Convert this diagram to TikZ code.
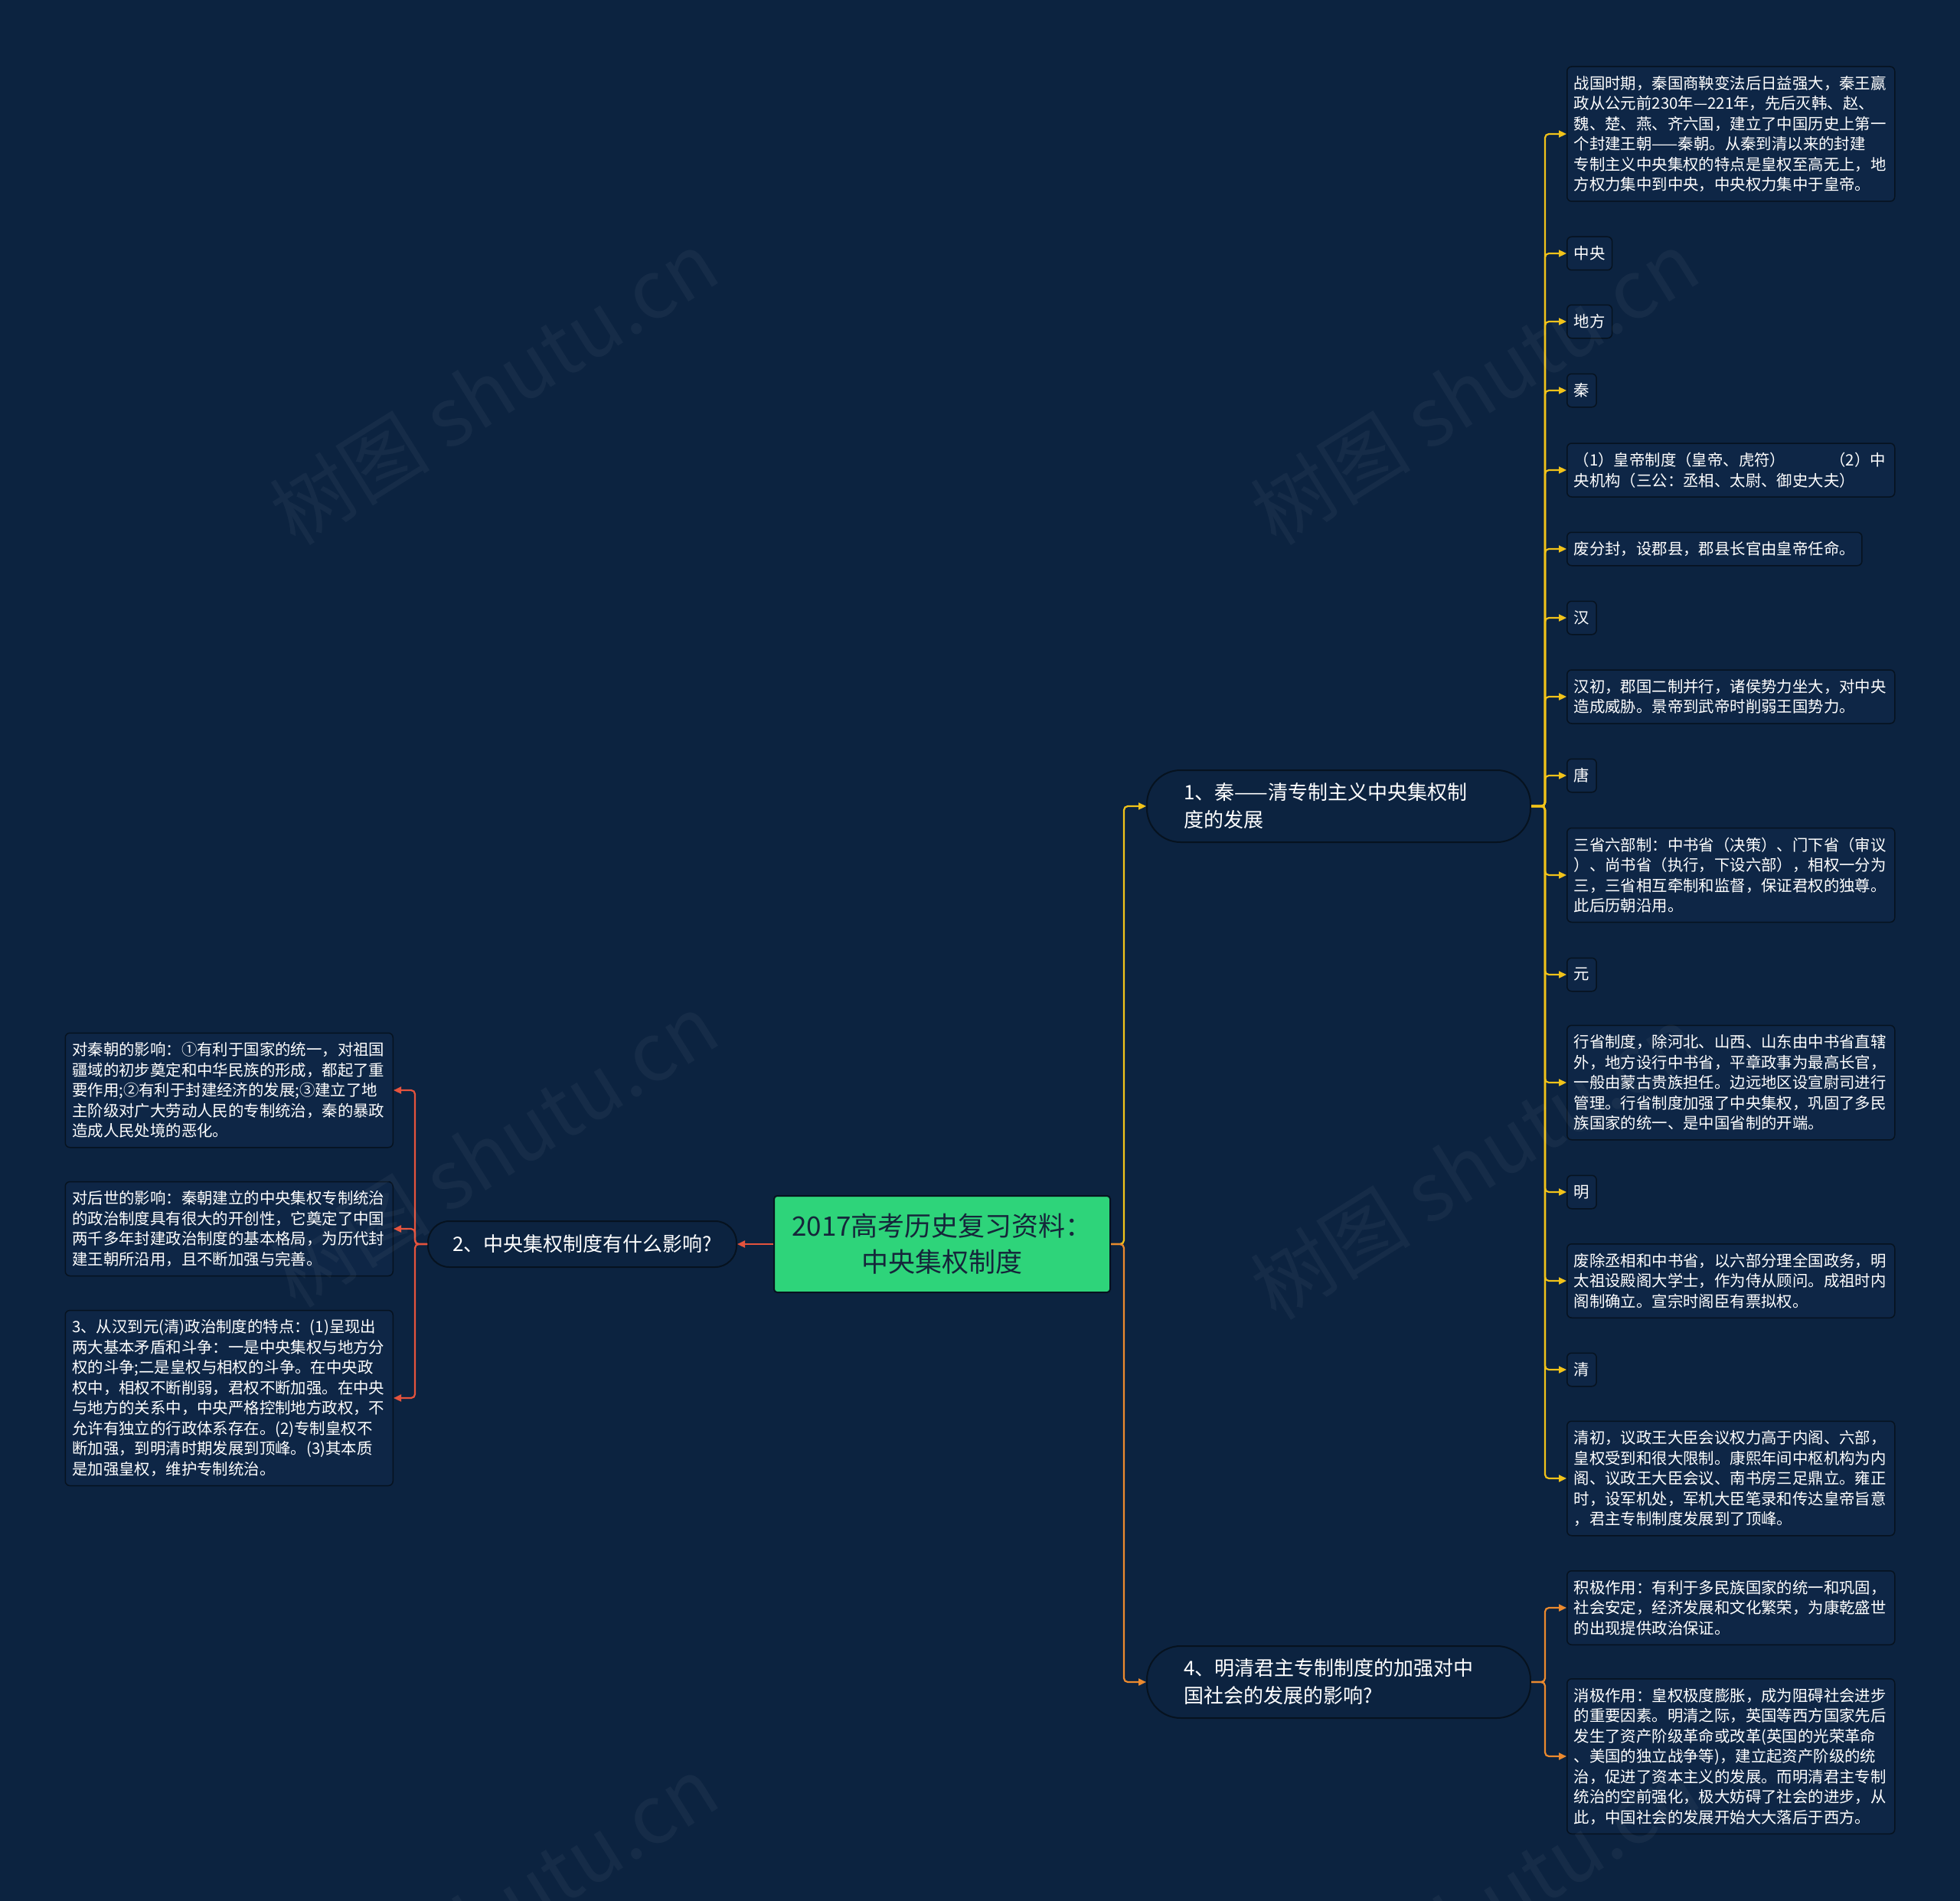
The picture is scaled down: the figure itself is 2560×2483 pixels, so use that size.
\documentclass[tikz,border=0pt]{standalone}
\usepackage{fontspec}
\newfontfamily\cjk{Noto Sans CJK SC}
\usetikzlibrary{arrows.meta}
\definecolor{bg}{HTML}{0C2340}
\definecolor{boxfill}{HTML}{0E2646}
\definecolor{boxline}{HTML}{06121F}
\definecolor{cyel}{HTML}{F2C31A}
\definecolor{corg}{HTML}{EC8A2E}
\definecolor{cred}{HTML}{E5533D}
\definecolor{rootg}{HTML}{2ED47A}
\definecolor{roottxt}{HTML}{15263A}
\begin{document}
\begin{tikzpicture}[x=1pt,y=-1pt,
  leaf/.style={draw=boxline, line width=1.5pt, fill=boxfill, rounded corners=6pt,
    inner xsep=9pt, inner ysep=0pt, text=white,
    font=\cjk\fontsize{20.4pt}{26.5pt}\selectfont, align=left,
    minimum height=#1*26.5pt+17pt},
  leaf/.default=1,
  wide/.style={text width=410pt},
  branch/.style={draw=boxline, line width=2pt, fill=bg, text=white,
    font=\cjk\fontsize{26pt}{36pt}\selectfont, align=left},
  conn/.style={line width=2.2pt, rounded corners=5pt, -{Triangle[length=10pt,width=9pt]}},
  yl/.style={conn, draw=cyel, -{Triangle[length=10pt,width=9pt,fill=cyel]}},
  ol/.style={conn, draw=corg, -{Triangle[length=10pt,width=9pt,fill=corg]}},
  rl/.style={conn, draw=cred, -{Triangle[length=10pt,width=9pt,fill=cred]}},
  wmark/.style={rotate=32, text=white, opacity=0.045, font=\cjk\fontsize{105pt}{105pt}\selectfont}
]
\fill[bg] (0,0) rectangle (2560,2483);
\useasboundingbox (0,0) rectangle (2560,2483);

% root
\node[draw=boxline, line width=2pt, fill=rootg, rounded corners=4pt, text=roottxt,
  minimum width=439pt, minimum height=126pt, align=center,
  font=\cjk\fontsize{35pt}{47pt}\selectfont] (root) at (1230.5,1625)
  {2017高考历史复习资料：\\中央集权制度};

% branches
\node[branch, rounded corners=44pt, text width=405pt, inner xsep=48pt, minimum height=94pt, anchor=west] (b1) at (1497,1053)
  {1、秦——清专制主义中央集权制\\度的发展};
\node[branch, rounded corners=44pt, text width=405pt, inner xsep=48pt, minimum height=94pt, anchor=west] (b4) at (1497,2197)
  {4、明清君主专制制度的加强对中\\国社会的发展的影响?};
\node[branch, rounded corners=28pt, inner xsep=31pt, minimum height=60pt, minimum width=403pt, anchor=east] (b2) at (963,1625)
  {2、中央集权制度有什么影响?};

% right leaves of branch 1
\node[leaf=6, wide, anchor=west] (r1) at (2046,175)
  {战国时期，秦国商鞅变法后日益强大，秦王嬴\\政从公元前230年—221年，先后灭韩、赵、\\魏、楚、燕、齐六国，建立了中国历史上第一\\个封建王朝——秦朝。从秦到清以来的封建\\专制主义中央集权的特点是皇权至高无上，地\\方权力集中到中央，中央权力集中于皇帝。};
\node[leaf, anchor=west] (r2) at (2046,331) {中央};
\node[leaf, anchor=west] (r3) at (2046,420) {地方};
\node[leaf, anchor=west] (r4) at (2046,510) {秦};
\node[leaf=2, wide, anchor=west] (r5) at (2046,614)
  {（1）皇帝制度（皇帝、虎符）\hspace*{58pt}（2）中\\央机构（三公：丞相、太尉、御史大夫）};
\node[leaf, anchor=west] (r6) at (2046,717) {废分封，设郡县，郡县长官由皇帝任命。};
\node[leaf, anchor=west] (r7) at (2046,807) {汉};
\node[leaf=2, wide, anchor=west] (r8) at (2046,910)
  {汉初，郡国二制并行，诸侯势力坐大，对中央\\造成威胁。景帝到武帝时削弱王国势力。};
\node[leaf, anchor=west] (r9) at (2046,1013) {唐};
\node[leaf=4, wide, anchor=west] (r10) at (2046,1143)
  {三省六部制：中书省（决策）、门下省（审议\\）、尚书省（执行，下设六部），相权一分为\\三，三省相互牵制和监督，保证君权的独尊。\\此后历朝沿用。};
\node[leaf, anchor=west] (r11) at (2046,1273) {元};
\node[leaf=5, wide, anchor=west] (r12) at (2046,1414)
  {行省制度，除河北、山西、山东由中书省直辖\\外，地方设行中书省，平章政事为最高长官，\\一般由蒙古贵族担任。边远地区设宣尉司进行\\管理。行省制度加强了中央集权，巩固了多民\\族国家的统一、是中国省制的开端。};
\node[leaf, anchor=west] (r13) at (2046,1557) {明};
\node[leaf=3, wide, anchor=west] (r14) at (2046,1673)
  {废除丞相和中书省，以六部分理全国政务，明\\太祖设殿阁大学士，作为侍从顾问。成祖时内\\阁制确立。宣宗时阁臣有票拟权。};
\node[leaf, anchor=west] (r15) at (2046,1789) {清};
\node[leaf=5, wide, anchor=west] (r16) at (2046,1931)
  {清初，议政王大臣会议权力高于内阁、六部，\\皇权受到和很大限制。康熙年间中枢机构为内\\阁、议政王大臣会议、南书房三足鼎立。雍正\\时，设军机处，军机大臣笔录和传达皇帝旨意\\，君主专制制度发展到了顶峰。};

% right leaves of branch 4
\node[leaf=3, wide, anchor=west] (q1) at (2046,2100)
  {积极作用：有利于多民族国家的统一和巩固，\\社会安定，经济发展和文化繁荣，为康乾盛世\\的出现提供政治保证。};
\node[leaf=7, wide, anchor=west] (q2) at (2046,2294)
  {消极作用：皇权极度膨胀，成为阻碍社会进步\\的重要因素。明清之际，英国等西方国家先后\\发生了资产阶级革命或改革(英国的光荣革命\\、美国的独立战争等)，建立起资产阶级的统\\治，促进了资本主义的发展。而明清君主专制\\统治的空前强化，极大妨碍了社会的进步，从\\此，中国社会的发展开始大大落后于西方。};

% left leaves of branch 2
\node[leaf=5, wide, anchor=east] (l1) at (514,1424)
  {对秦朝的影响：①有利于国家的统一，对祖国\\疆域的初步奠定和中华民族的形成，都起了重\\要作用;②有利于封建经济的发展;③建立了地\\主阶级对广大劳动人民的专制统治，秦的暴政\\造成人民处境的恶化。};
\node[leaf=4, wide, anchor=east] (l2) at (514,1605)
  {对后世的影响：秦朝建立的中央集权专制统治\\的政治制度具有很大的开创性，它奠定了中国\\两千多年封建政治制度的基本格局，为历代封\\建王朝所沿用，且不断加强与完善。};
\node[leaf=8, wide, anchor=east] (l3) at (514,1826)
  {3、从汉到元(清)政治制度的特点：(1)呈现出\\两大基本矛盾和斗争：一是中央集权与地方分\\权的斗争;二是皇权与相权的斗争。在中央政\\权中，相权不断削弱，君权不断加强。在中央\\与地方的关系中，中央严格控制地方政权，不\\允许有独立的行政体系存在。(2)专制皇权不\\断加强，到明清时期发展到顶峰。(3)其本质\\是加强皇权，维护专制统治。};

% spine coordinates
\coordinate (sr) at (1468,1625);
\coordinate (s1) at (2018,1053);
\coordinate (s4) at (2018,2197);
\coordinate (s2) at (542,1625);

% root connectors
\draw[yl] (root.east) -- (sr) |- (b1.west);
\draw[ol] (root.east) -- (sr) |- (b4.west);
\draw[rl] (root.west) -- (b2.east);

% branch 1 connectors
\foreach \n in {r1,r2,r3,r4,r5,r6,r7,r8,r9,r10,r11,r12,r13,r14,r15,r16}
  \draw[yl] (b1.east) -- (s1) |- (\n.west);
% branch 4 connectors
\foreach \n in {q1,q2}
  \draw[ol] (b4.east) -- (s4) |- (\n.west);
% branch 2 connectors
\foreach \n in {l1,l2,l3}
  \draw[rl] (b2.west) -- (s2) |- (\n.east);

% watermark
\node[wmark] (w1) at (645,506) {树图 shutu.cn};
\node[wmark] (w2) at (1926,506) {树图 shutu.cn};
\node[wmark] (w3) at (645,1502) {树图 shutu.cn};
\node[wmark] (w4) at (1926,1518) {树图 shutu.cn};
\node[wmark] (w5) at (645,2498) {树图 shutu.cn};
\node[wmark] (w6) at (1926,2498) {树图 shutu.cn};
\end{tikzpicture}
\end{document}
